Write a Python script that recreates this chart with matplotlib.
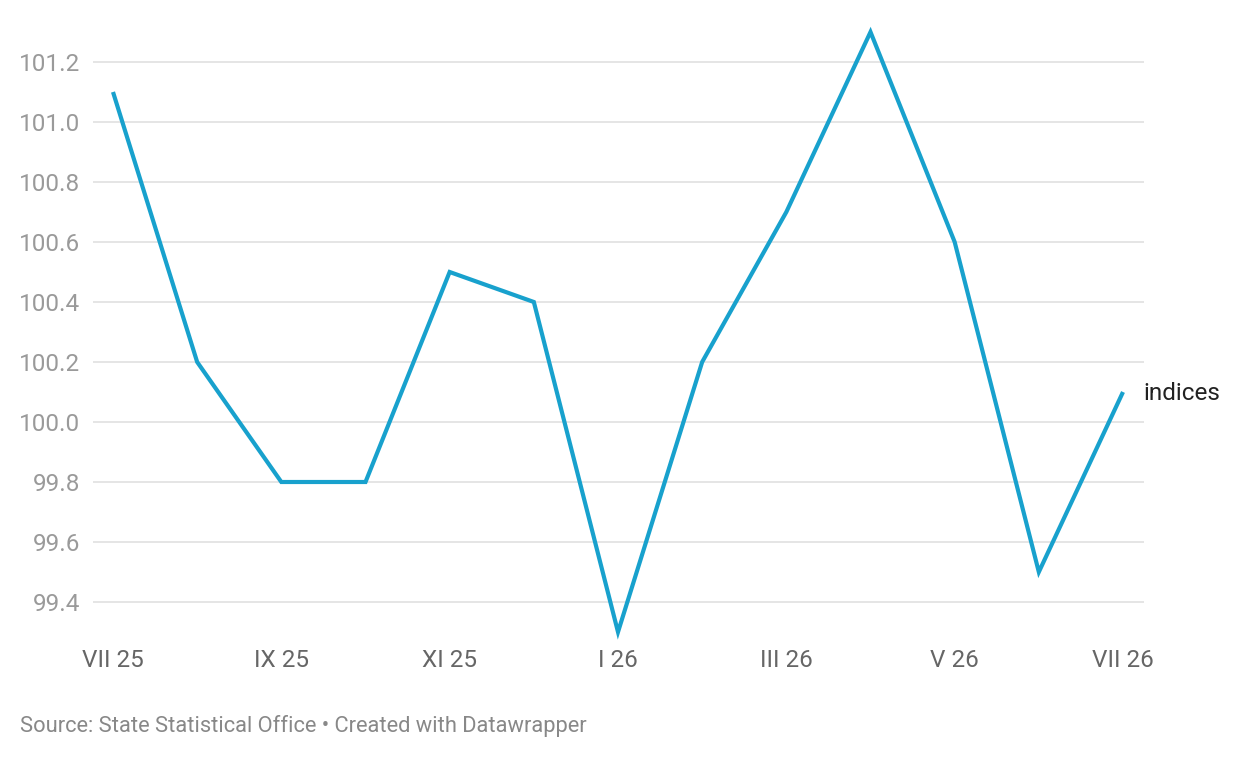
"""Monthly price indices, VII 25 - VII 26 (Datawrapper-style line chart)."""

import matplotlib.pyplot as plt

plt.rcParams["font.family"] = ["Roboto", "DejaVu Sans"]

MONTHS = ["VII 25", "VIII 25", "IX 25", "X 25", "XI 25", "XII 25", "I 26",
          "II 26", "III 26", "IV 26", "V 26", "VI 26", "VII 26"]
INDICES = [101.1, 100.2, 99.8, 99.8, 100.5, 100.4, 99.3,
           100.2, 100.7, 101.3, 100.6, 99.5, 100.1]
Y_TICKS = [99.4, 99.6, 99.8, 100.0, 100.2, 100.4, 100.6, 100.8, 101.0, 101.2]
SERIES_LABEL = "indices"
SOURCE = "Source: State Statistical Office • Created with Datawrapper"

LINE_COLOR = "#18a1cd"
GRID_COLOR = "#e3e3e3"

W, H = 1240, 758
fig = plt.figure(figsize=(W / 100, H / 100), dpi=100)
ax = fig.add_axes([93 / W, (H - 632) / H, (1144 - 93) / W, 600 / H])

x = list(range(len(MONTHS)))
ax.plot(x, INDICES, color=LINE_COLOR, lw=3, solid_joinstyle="miter",
        solid_capstyle="butt", clip_on=False, zorder=3)

ax.set_xlim(-20 / 84.17, 12 + 21 / 84.17)
ax.set_ylim(99.3, 101.3)

ax.set_yticks(Y_TICKS)
ax.set_yticklabels([f"{v:.1f}" for v in Y_TICKS])
for v in Y_TICKS:
    ax.axhline(v, color=GRID_COLOR, lw=1.3, zorder=1)

ax.set_xticks(x[::2])
ax.set_xticklabels(MONTHS[::2])

for side in ax.spines.values():
    side.set_visible(False)
ax.tick_params(axis="y", length=0, pad=9, labelsize=17.5, labelcolor="#9a9a9a")
ax.tick_params(axis="x", length=0, pad=12, labelsize=17.5, labelcolor="#666666")

# series label sits just right of the last point, nudged slightly down
ax.annotate(SERIES_LABEL, xy=(x[-1], INDICES[-1]), xytext=(20, -2),
            textcoords="offset pixels", va="center", ha="left",
            fontsize=17.5, color="#222222")

fig.text(20 / W, 1 - 726 / H, SOURCE, ha="left", va="center",
         fontsize=15.75, color="#888888")

fig.savefig("out.png", dpi=100)
